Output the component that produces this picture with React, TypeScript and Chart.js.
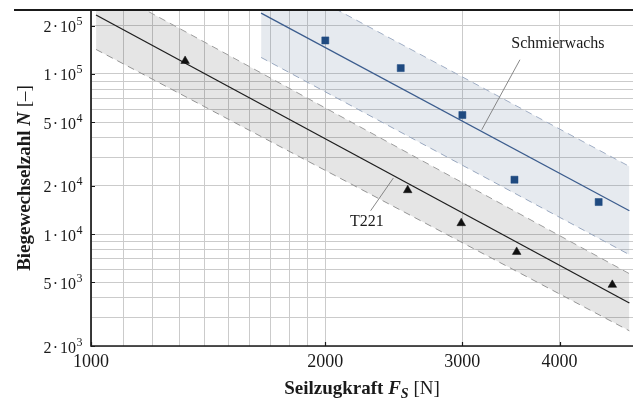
import React, { useEffect, useRef } from 'react';
import { Chart, registerables } from 'chart.js';

Chart.register(...registerables);

// ---- axis ranges & grid ----
const X_MIN = 1000;
const X_MAX = 4970;
const Y_MIN = 2000;
const Y_MAX = 250000;
const xGridValues = [1000, 1100, 1200, 1300, 1400, 1500, 1600, 1700, 1800, 1900, 2000, 3000, 4000];
const yGridValues = [2000, 3000, 4000, 5000, 6000, 7000, 8000, 9000, 10000, 20000, 30000, 40000, 50000, 60000, 70000, 80000, 90000, 100000, 200000];
const xTickValues = [1000, 2000, 3000, 4000];
const xTickLabels = ['1000', '2000', '3000', '4000'];
const yTickValues = [2000, 5000, 10000, 20000, 50000, 100000, 200000];
const yTickMantissa = ['2', '5', '1', '2', '5', '1', '2'];
const yTickExponent = ['3', '3', '4', '4', '4', '5', '5'];

// ---- measured points ----
const t221F = [1321, 2552, 2990, 3523, 4675];
const t221N = [120200, 18760, 11680, 7730, 4814];
const swF = [2000, 2500, 3000, 3500, 4490];
const swN = [161400, 108500, 55260, 21820, 15830];

// ---- fit lines and scatter bands ----
const t221LineF = [1015, 4917];
const t221FitN = [232700, 3712];
const t221UpperN = [368600, 5655];
const t221LowerN = [141800, 2487];
const swLineF = [1654, 4917];
const swFitN = [239100, 13970];
const swUpperN = [450000, 26410];
const swLowerN = [126400, 7429];

// ---- annotations ----
const swLabelText = 'Schmierwachs';
const swLabelF = 3980;
const swLabelN = 153900;
const swLeaderF = [3557, 3177];
const swLeaderN = [122300, 44750];
const t221LabelText = 'T221';
const t221LabelF = 2262;
const t221LabelN = 11930;
const t221LeaderF = [2287, 2446];
const t221LeaderN = [13970, 22350];

const SERIF = '"Liberation Serif", "Times New Roman", serif';
const TEXT = '#1a1a1a';

const pts = (xs: number[], ys: number[]) => xs.map((v, i) => ({ x: v, y: ys[i] }));

const overlay = {
  id: 'overlay',
  afterDraw(chart: any) {
    const { ctx, chartArea: a, scales } = chart;
    const x = scales.x;
    const y = scales.y;
    ctx.save();

    // leader lines
    ctx.strokeStyle = '#7a7a7a';
    ctx.lineWidth = 0.9;
    ctx.beginPath();
    ctx.moveTo(x.getPixelForValue(swLeaderF[0]), y.getPixelForValue(swLeaderN[0]));
    ctx.lineTo(x.getPixelForValue(swLeaderF[1]), y.getPixelForValue(swLeaderN[1]));
    ctx.moveTo(x.getPixelForValue(t221LeaderF[0]), y.getPixelForValue(t221LeaderN[0]));
    ctx.lineTo(x.getPixelForValue(t221LeaderF[1]), y.getPixelForValue(t221LeaderN[1]));
    ctx.stroke();

    // annotation labels
    ctx.fillStyle = TEXT;
    ctx.font = `16px ${SERIF}`;
    ctx.textAlign = 'center';
    ctx.textBaseline = 'middle';
    ctx.fillText(swLabelText, x.getPixelForValue(swLabelF), y.getPixelForValue(swLabelN));
    ctx.fillText(t221LabelText, x.getPixelForValue(t221LabelF), y.getPixelForValue(t221LabelN));

    // axes frame
    ctx.strokeStyle = '#1a1a1a';
    ctx.lineWidth = 1.7;
    ctx.beginPath();
    ctx.moveTo(a.left, a.top);
    ctx.lineTo(a.left, a.bottom);
    ctx.lineTo(a.right, a.bottom);
    ctx.stroke();
    ctx.lineWidth = 2;
    ctx.beginPath();
    ctx.moveTo(14, a.top);
    ctx.lineTo(a.right, a.top);
    ctx.stroke();

    // inward ticks
    ctx.lineWidth = 1.2;
    ctx.beginPath();
    xTickValues.forEach((v) => {
      const px = Math.round(x.getPixelForValue(v)) + 0.5;
      ctx.moveTo(px, a.bottom);
      ctx.lineTo(px, a.bottom - 4);
    });
    yTickValues.forEach((v) => {
      const py = Math.round(y.getPixelForValue(v)) + 0.5;
      ctx.moveTo(a.left, py);
      ctx.lineTo(a.left + 4, py);
    });
    ctx.stroke();

    // x tick labels
    ctx.font = `18px ${SERIF}`;
    ctx.textAlign = 'center';
    ctx.textBaseline = 'middle';
    xTickValues.forEach((v, i) => {
      ctx.fillText(xTickLabels[i], x.getPixelForValue(v), a.bottom + 16);
    });

    // y tick labels  m·10^e
    yTickValues.forEach((v, i) => {
      const py = y.getPixelForValue(v) + 2.5;
      const tenRight = a.left - 15;
      ctx.font = `16px ${SERIF}`;
      ctx.textBaseline = 'middle';
      ctx.textAlign = 'right';
      ctx.fillText('10', tenRight, py);
      const tenW = ctx.measureText('10').width;
      const dotX = tenRight - tenW - 4.5;
      ctx.textAlign = 'center';
      ctx.fillText('·', dotX, py);
      ctx.textAlign = 'right';
      ctx.fillText(yTickMantissa[i], dotX - 4, py);
      ctx.font = `12px ${SERIF}`;
      ctx.textAlign = 'left';
      ctx.fillText(yTickExponent[i], tenRight + 0.5, py - 6);
    });

    // x axis title
    ctx.textBaseline = 'alphabetic';
    ctx.textAlign = 'left';
    const xParts = [
      { t: 'Seilzugkraft ', f: `bold 19px ${SERIF}`, dy: 0 },
      { t: 'F', f: `italic bold 19px ${SERIF}`, dy: 0 },
      { t: 'S', f: `italic bold 14px ${SERIF}`, dy: 4 },
      { t: ' [N]', f: `19px ${SERIF}`, dy: 0 },
    ];
    let total = 0;
    xParts.forEach((p) => { ctx.font = p.f; total += ctx.measureText(p.t).width; });
    let cx = (a.left + a.right) / 2 - total / 2;
    const by = a.bottom + 48;
    xParts.forEach((p) => {
      ctx.font = p.f;
      ctx.fillText(p.t, cx, by + p.dy);
      cx += ctx.measureText(p.t).width;
    });

    // y axis title (rotated)
    const yParts = [
      { t: 'Biegewechselzahl ', f: `bold 19px ${SERIF}` },
      { t: 'N', f: `italic bold 19px ${SERIF}` },
      { t: ' [–]', f: `19px ${SERIF}` },
    ];
    total = 0;
    yParts.forEach((p) => { ctx.font = p.f; total += ctx.measureText(p.t).width; });
    ctx.translate(30, (a.top + a.bottom) / 2);
    ctx.rotate(-Math.PI / 2);
    let tx = -total / 2;
    yParts.forEach((p) => {
      ctx.font = p.f;
      ctx.fillText(p.t, tx, 0);
      tx += ctx.measureText(p.t).width;
    });

    ctx.restore();
  },
};

export default function App() {
  const ref = useRef<HTMLCanvasElement | null>(null);

  useEffect(() => {
    if (!ref.current) return;
    const chart = new Chart(ref.current, {
      type: 'line',
      data: {
        datasets: [
          {
            data: pts(t221LineF, t221UpperN),
            borderColor: '#9c9c9c',
            borderWidth: 1,
            borderDash: [7, 5],
            pointRadius: 0,
            fill: '+1',
            backgroundColor: 'rgba(0,0,0,0.10)',
            order: 3,
            clip: 0,
          },
          {
            data: pts(t221LineF, t221LowerN),
            borderColor: '#9c9c9c',
            borderWidth: 1,
            borderDash: [7, 5],
            pointRadius: 0,
            fill: false,
            order: 3,
            clip: 0,
          },
          {
            data: pts(swLineF, swUpperN),
            borderColor: '#9fadc4',
            borderWidth: 1,
            borderDash: [7, 5],
            pointRadius: 0,
            fill: '+1',
            backgroundColor: 'rgba(90,115,150,0.15)',
            order: 3,
            clip: 0,
          },
          {
            data: pts(swLineF, swLowerN),
            borderColor: '#9fadc4',
            borderWidth: 1,
            borderDash: [7, 5],
            pointRadius: 0,
            fill: false,
            order: 3,
            clip: 0,
          },
          {
            data: pts(t221LineF, t221FitN),
            borderColor: '#1e1e1e',
            borderWidth: 1.3,
            pointRadius: 0,
            fill: false,
            order: 2,
            clip: 0,
          },
          {
            data: pts(swLineF, swFitN),
            borderColor: '#3c5d8e',
            borderWidth: 1.3,
            pointRadius: 0,
            fill: false,
            order: 2,
            clip: 0,
          },
          {
            data: pts(t221F, t221N),
            showLine: false,
            pointStyle: 'triangle',
            pointRadius: 5,
            pointBackgroundColor: '#111111',
            pointBorderColor: '#111111',
            pointBorderWidth: 0.5,
            order: 1,
          },
          {
            data: pts(swF, swN),
            showLine: false,
            pointStyle: 'rect',
            pointRadius: 5,
            pointBackgroundColor: '#1f4a80',
            pointBorderColor: '#1f4a80',
            pointBorderWidth: 0.5,
            order: 1,
          },
        ],
      },
      options: {
        responsive: false,
        animation: false,
        events: [],
        layout: { autoPadding: false, padding: { top: 10, right: 0, left: 0, bottom: 0 } },
        plugins: {
          legend: { display: false },
          tooltip: { enabled: false },
        },
        scales: {
          x: {
            type: 'logarithmic',
            min: X_MIN,
            max: X_MAX,
            ticks: { display: false },
            border: { display: false },
            grid: { color: '#cbcbcb', lineWidth: 1, drawTicks: false },
            afterBuildTicks: (s: any) => {
              s.ticks = xGridValues.map((v) => ({ value: v }));
            },
            afterFit: (s: any) => {
              s.height = 59;
              s.paddingLeft = 0;
              s.paddingRight = 0;
            },
          },
          y: {
            type: 'logarithmic',
            min: Y_MIN,
            max: Y_MAX,
            ticks: { display: false },
            border: { display: false },
            grid: { color: '#cbcbcb', lineWidth: 1, drawTicks: false },
            afterBuildTicks: (s: any) => {
              s.ticks = yGridValues.map((v) => ({ value: v }));
            },
            afterFit: (s: any) => {
              s.width = 91;
              s.paddingTop = 0;
              s.paddingBottom = 0;
            },
          },
        },
      } as any,
      plugins: [overlay],
    });
    return () => chart.destroy();
  }, []);

  return (
    <div style={{ position: 'absolute', left: 0, top: 0, width: 633, height: 405, background: '#ffffff', overflow: 'hidden' }}>
      <canvas ref={ref} width={633} height={405} style={{ display: 'block' }} />
    </div>
  );
}
